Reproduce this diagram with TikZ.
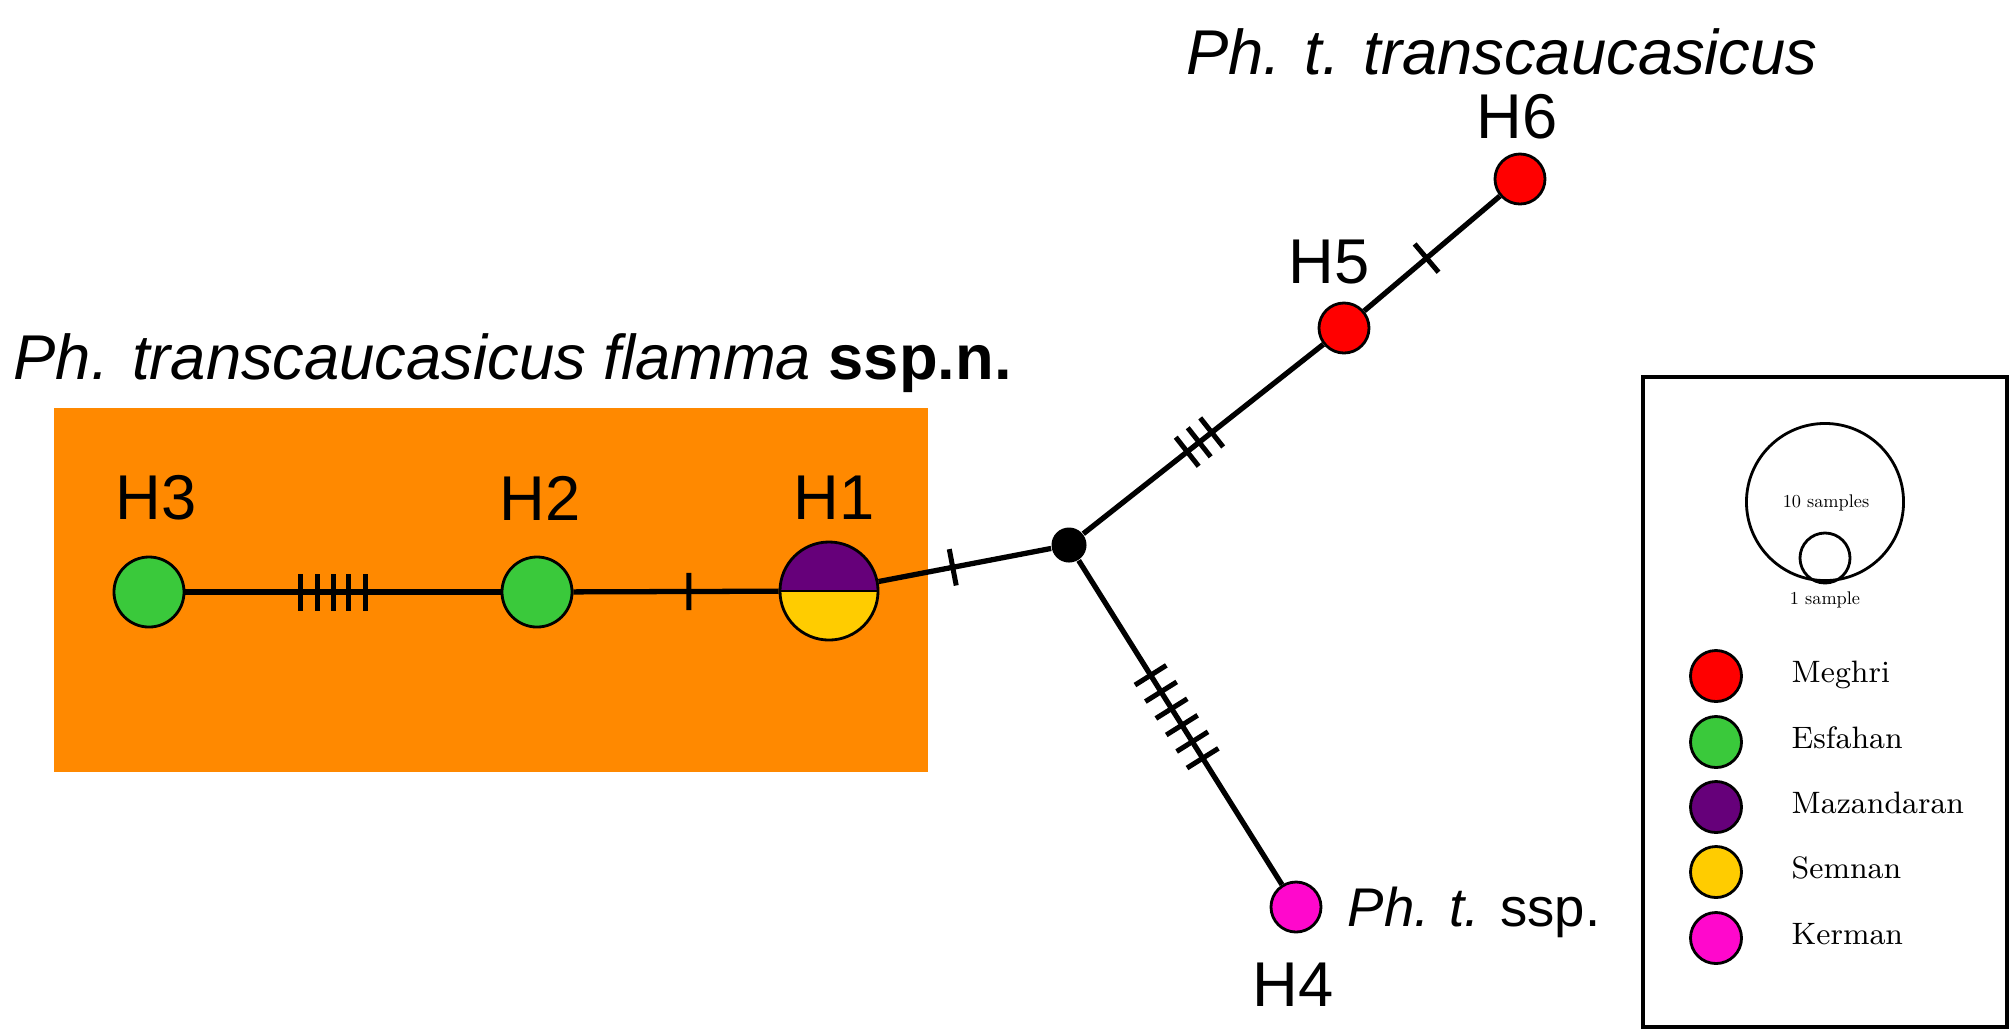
\documentclass[tikz,border=0pt]{standalone}
\usepackage{fontspec}
\newfontfamily\labelfont{Liberation Sans}
\definecolor{flamma}{RGB}{255,137,0}
\definecolor{meghri}{RGB}{255,0,0}
\definecolor{esfahan}{RGB}{58,201,59}
\definecolor{mazandaran}{RGB}{102,0,122}
\definecolor{semnan}{RGB}{255,204,0}
\definecolor{kerman}{RGB}{255,8,204}
\begin{document}
\begin{tikzpicture}[x=0.01cm,y=-0.01cm,hap/.style={circle,draw=black,line width=0.8pt,inner sep=0pt,minimum size=0.5cm},link/.style={line width=1.5pt},tick/.style={fill=black,inner sep=0pt,minimum width=0.05cm,minimum height=0.37cm,sloped},hlabel/.style={font=\labelfont\fontsize{18}{20}\selectfont,inner sep=0pt},keytext/.style={font=\fontsize{8.8}{10}\selectfont,anchor=base west,inner sep=0pt},sampletext/.style={font=\fontsize{10}{12}\selectfont,inner sep=0pt}]
\useasboundingbox (0,0) rectangle (2012,1032);
\fill[flamma] (54,408) rectangle (928,772);
\node[hap,fill=esfahan,minimum size=0.7cm] (h3) at (149,592) {}; \node[hap,fill=esfahan,minimum size=0.7cm] (h2) at (537,592) {};
\node[hap,minimum size=0.98cm,path picture={\fill[mazandaran] (path picture bounding box.north west) rectangle (path picture bounding box.east); \fill[semnan] (path picture bounding box.west) rectangle (path picture bounding box.south east); \draw[line width=0.8pt] (path picture bounding box.west) -- (path picture bounding box.east);}] (h1) at (829,591) {};
\node[circle,fill=black,inner sep=0pt,minimum size=0.35cm] (hub) at (1069,545) {};
\node[hap,fill=meghri] (h5) at (1344,328) {}; \node[hap,fill=meghri] (h6) at (1520,179) {}; \node[hap,fill=kerman] (h4) at (1296,907) {};
\draw[link] (h3) -- (h2) node[tick,pos=0.365] (m1) {} node[tick,pos=0.418] (m2) {} node[tick,pos=0.469] (m3) {} node[tick,pos=0.519] (m4) {} node[tick,pos=0.572] (m5) {};
\draw[link] (h2) -- (h1) node[tick,pos=0.5625] (m6) {};
\draw[link] (h1) -- (hub) node[tick,pos=0.43] (m7) {};
\draw[link] (hub) -- (h5) node[tick,pos=0.433] (m8) {} node[tick,pos=0.483] (m9) {} node[tick,pos=0.535] (m10) {};
\draw[link] (h5) -- (h6) node[tick,pos=0.46] (m11) {};
\draw[link] (hub) -- (h4) node[tick,pos=0.354] (m12) {} node[tick,pos=0.405] (m13) {} node[tick,pos=0.457] (m14) {} node[tick,pos=0.508] (m15) {} node[tick,pos=0.559] (m16) {} node[tick,pos=0.610] (m17) {};
\node[hlabel] (l3) at (156,498) {H3}; \node[hlabel] (l2) at (540,498) {H2}; \node[hlabel] (l1) at (834,498) {H1};
\node[hlabel] (l5) at (1329,262) {H5}; \node[hlabel] (l6) at (1517,117) {H6}; \node[hlabel] (l4) at (1293,985) {H4};
\node[hlabel,anchor=base west] (flammaname) at (13,379) {\textit{Ph. transcaucasicus flamma} \textbf{ssp.n.}};
\node[hlabel,anchor=base] (transname) at (1502,74) {\textit{Ph. t. transcaucasicus}};
\node[hlabel,anchor=base west,font=\labelfont\fontsize{15.5}{18}\selectfont] (sspname) at (1347,926) {\textit{Ph. t.} ssp.};
\draw[line width=1pt] (1643,377) rectangle (2007,1027);
\node[circle,draw,line width=0.8pt,inner sep=0pt,minimum size=1.57cm] (tenring) at (1825,502) {}; \node[circle,draw,line width=0.8pt,inner sep=0pt,minimum size=0.5cm] (onering) at (1825,558) {};
\node[sampletext] (tenlabel) at (1826,503) {\scalebox{0.52}{10 samples}}; \node[sampletext] (onelabel) at (1825,600) {\scalebox{0.52}{1 sample}};
\node[hap,fill=meghri,minimum size=0.51cm] (k1) at (1716,676) {}; \node[keytext] (t1) at (1791,682) {Meghri};
\node[hap,fill=esfahan,minimum size=0.51cm] (k2) at (1716,742) {}; \node[keytext] (t2) at (1791,748) {Esfahan};
\node[hap,fill=mazandaran,minimum size=0.51cm] (k3) at (1716,807) {}; \node[keytext] (t3) at (1791,813) {Mazandaran};
\node[hap,fill=semnan,minimum size=0.51cm] (k4) at (1716,872) {}; \node[keytext] (t4) at (1791,878) {Semnan};
\node[hap,fill=kerman,minimum size=0.51cm] (k5) at (1716,938) {}; \node[keytext] (t5) at (1791,944) {Kerman};
\end{tikzpicture}
\end{document}
